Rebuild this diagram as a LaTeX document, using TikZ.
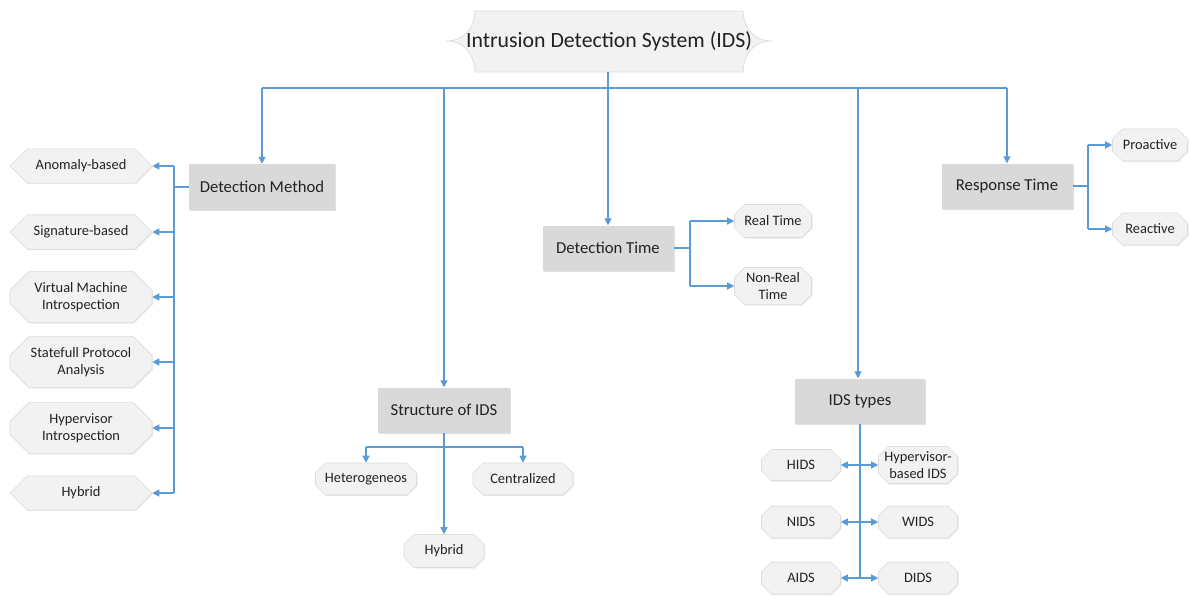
\documentclass[tikz,border=0pt]{standalone}
\usepackage{fontspec}
\setmainfont{Carlito}
\usetikzlibrary{shapes.misc,arrows.meta,shadows}
\definecolor{link}{HTML}{5B9BD5}
\definecolor{catfill}{HTML}{D9D9D9}
\definecolor{leaffill}{HTML}{F2F2F2}
\definecolor{leafline}{HTML}{DCDCDC}
\definecolor{inktext}{HTML}{222222}

\begin{document}
\begin{tikzpicture}[x=1pt,y=-1pt,
  line/.style={draw=link, line width=1.2pt},
  arr/.style={line, -{Triangle[length=7pt,width=7pt]}},
  biarr/.style={line, {Triangle[length=7pt,width=7pt]}-{Triangle[length=7pt,width=7pt]}},
  cat/.style={fill=catfill, inner sep=0pt, text=inktext,
    font=\fontsize{16.7}{19}\selectfont,
    drop shadow={shadow xshift=1.2pt, shadow yshift=-1.2pt, fill=black, opacity=0.12}},
  leaf/.style={chamfered rectangle, chamfered rectangle xsep=5pt, chamfered rectangle ysep=5pt,
    fill=leaffill, draw=leafline, line width=0.6pt, inner sep=0pt, align=center, text=inktext,
    font=\fontsize{14.4}{17}\selectfont,
    drop shadow={shadow xshift=1pt, shadow yshift=-1pt, fill=black, opacity=0.08}},
  hexleaf/.style={leaf, chamfered rectangle xsep=8pt, chamfered rectangle ysep=11pt}
]
\useasboundingbox (0,0) rectangle (1190,597);
\fill[white] (0,0) rectangle (1190,597);

% title plaque
\filldraw[fill=leaffill, draw=leafline, line width=0.7pt]
  (475,11) -- (743,11)
  .. controls (744,30) and (755,41) .. (772,41)
  .. controls (755,41) and (744,52) .. (743,72)
  -- (475,72)
  .. controls (474,52) and (463,41) .. (446,41)
  .. controls (463,41) and (474,30) .. (475,11) -- cycle;
\node[inner sep=0pt, minimum width=327pt, minimum height=61pt, text=inktext,
  font=\fontsize{21.8}{26}\selectfont] (ids) at (609,41) {Intrusion Detection System (IDS)};

% categories
\node[cat, minimum width=146pt, minimum height=46pt] (dm)  at (262,187) {Detection Method};
\node[cat, minimum width=132pt, minimum height=45pt] (soi) at (444,410) {Structure of IDS};
\node[cat, minimum width=131pt, minimum height=45pt] (dt)  at (608,248) {Detection Time};
\node[cat, minimum width=130pt, minimum height=45pt] (it)  at (860,401) {IDS types};
\node[cat, minimum width=131pt, minimum height=45pt] (rsp) at (1007,186) {Response Time};

% detection method leaves
\node[hexleaf, minimum width=142pt, minimum height=32pt] (ab)  at (81,166) {Anomaly-based};
\node[hexleaf, minimum width=142pt, minimum height=32pt] (sb)  at (81,232) {Signature-based};
\node[hexleaf, minimum width=142pt, minimum height=34pt] (vmi) at (81,297) {Virtual Machine\\Introspection};
\node[hexleaf, minimum width=142pt, minimum height=34pt] (spa) at (81,362) {Statefull Protocol\\Analysis};
\node[hexleaf, minimum width=142pt, minimum height=34pt] (hvi) at (81,428) {Hypervisor\\Introspection};
\node[hexleaf, minimum width=142pt, minimum height=32pt] (hyb) at (81,493) {Hybrid};

% detection time leaves
\node[leaf, minimum width=77pt, minimum height=33pt] (rt)  at (773,221) {Real Time};
\node[leaf, minimum width=77pt, minimum height=35pt] (nrt) at (773,286) {Non-Real\\Time};

% response time leaves
\node[leaf, minimum width=75pt, minimum height=32pt] (pro) at (1150,145) {Proactive};
\node[leaf, minimum width=75pt, minimum height=32pt] (rea) at (1150,229) {Reactive};

% structure leaves
\node[leaf, minimum width=101pt, minimum height=32pt] (het) at (366,479) {Heterogeneos};
\node[leaf, minimum width=100pt, minimum height=32pt] (cen) at (523,479) {Centralized};
\node[leaf, minimum width=80pt, minimum height=33pt]  (hyb2) at (444,551) {Hybrid};

% IDS type leaves
\node[leaf, minimum width=79pt, minimum height=31pt] (hids) at (801,465) {HIDS};
\node[leaf, minimum width=79pt, minimum height=37pt] (hyp)  at (918,465) {Hypervisor-\\based IDS};
\node[leaf, minimum width=79pt, minimum height=32pt] (nids) at (801,522) {NIDS};
\node[leaf, minimum width=79pt, minimum height=32pt] (wids) at (918,522) {WIDS};
\node[leaf, minimum width=79pt, minimum height=32pt] (aids) at (801,578) {AIDS};
\node[leaf, minimum width=79pt, minimum height=32pt] (dids) at (918,578) {DIDS};

% top distribution bus
\coordinate (top) at (608,88);
\coordinate (itdrop) at (858,88);
\draw[line] (ids.south -| top) -- (top);
\draw[line] (dm.north |- top) -- (rsp.north |- top);
\draw[arr] (dm.north |- top)  -- (dm.north);
\draw[arr] (soi.north |- top) -- (soi.north);
\draw[arr] (dt.north |- top)  -- (dt.north);
\draw[arr] (itdrop) -- (itdrop |- it.north);
\draw[arr] (rsp.north |- top) -- (rsp.north);

% detection method bus
\coordinate (lb) at (174,187);
\draw[line] (dm.west) -- (lb);
\draw[line] (ab.east -| lb) -- (hyb.east -| lb);
\foreach \n in {ab,sb,vmi,spa,hvi,hyb}
  \draw[arr] (\n.east -| lb) -- (\n.east);

% detection time bus
\coordinate (db) at (690,248);
\draw[line] (dt.east) -- (db);
\draw[line] (rt.west -| db) -- (nrt.west -| db);
\draw[arr] (rt.west -| db) -- (rt.west);
\draw[arr] (nrt.west -| db) -- (nrt.west);

% response time bus
\coordinate (rb) at (1088,186);
\draw[line] (rsp.east) -- (rb);
\draw[line] (pro.west -| rb) -- (rea.west -| rb);
\draw[arr] (pro.west -| rb) -- (pro.west);
\draw[arr] (rea.west -| rb) -- (rea.west);

% structure bus
\coordinate (stb) at (444,447);
\draw[arr] (soi.south) -- (hyb2.north);
\draw[line] (stb -| het) -- (stb -| cen);
\draw[arr] (stb -| het) -- (het.north);
\draw[arr] (stb -| cen) -- (cen.north);

% IDS types spine
\draw[line] (it.south) -- (it.south |- aids.east);
\draw[biarr] (hids.east) -- (hyp.west);
\draw[biarr] (nids.east) -- (wids.west);
\draw[biarr] (aids.east) -- (dids.west);
\end{tikzpicture}
\end{document}
